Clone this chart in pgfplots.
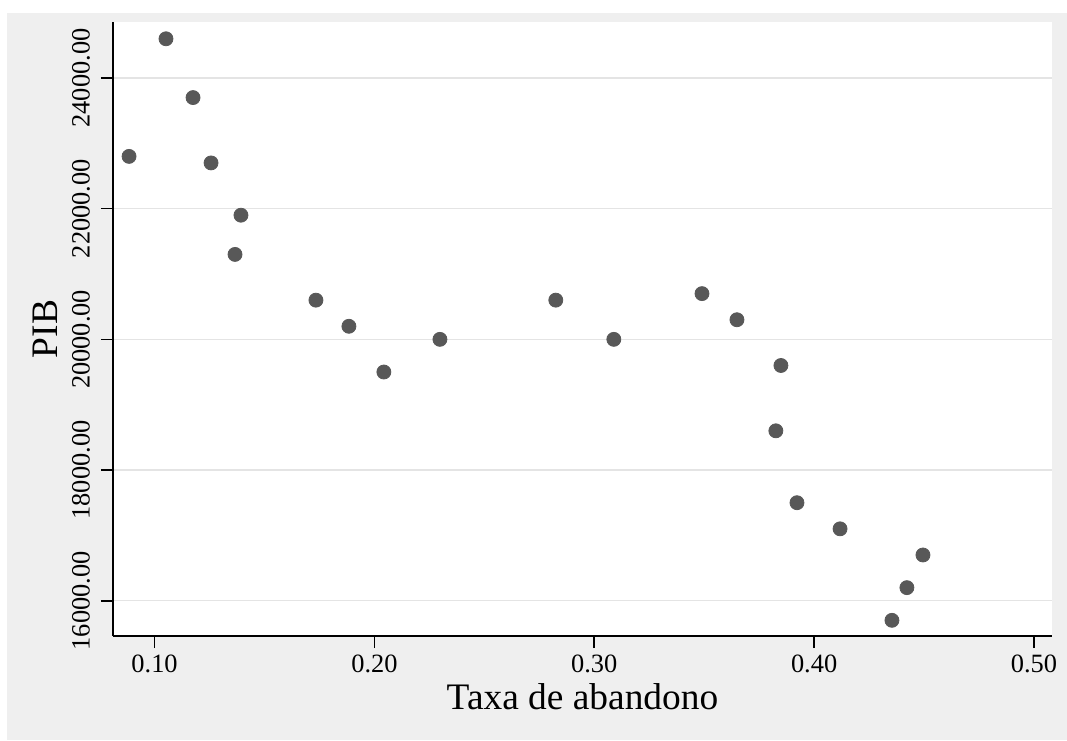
\documentclass[border=0pt]{standalone}
\usepackage{fontspec}
\setmainfont{Liberation Serif}
\usepackage{pgfplots}
\pgfplotsset{compat=1.18}
\definecolor{bggray}{RGB}{239,239,239}
\definecolor{ptgray}{RGB}{88,88,88}
\definecolor{gridgray}{RGB}{228,228,228}
\begin{document}
\begin{tikzpicture}
\path[use as bounding box] (0,0) rectangle (533.5pt,370pt);
\fill[bggray] (3.5pt,0pt) rectangle (533.5pt,363.5pt);
\begin{axis}[
  at={(56.5pt,52pt)}, anchor=south west,
  width=469.5pt, height=307pt, scale only axis,
  xmin=0.0811, xmax=0.5082, ymin=15460, ymax=24857,
  axis x line*=bottom, axis y line*=left,
  axis line style={black, line width=0.8pt, -},
  tick style={black, line width=0.8pt},
  tick align=outside, major tick length=6pt,
  xtick={0.1,0.2,0.3,0.4,0.5},
  ytick={16000,18000,20000,22000,24000},
  ymajorgrids, grid style={gridgray, line width=0.7pt},
  axis background/.style={fill=white},
  scaled ticks=false,
  yticklabel shift=2pt,
  /pgf/number format/assume math mode=true,
  x tick label style={/pgf/number format/.cd, fixed, fixed zerofill, precision=2, /tikz/.cd},
  y tick label style={rotate=90, anchor=south, /pgf/number format/.cd, fixed, fixed zerofill, precision=2, 1000 sep={}, /tikz/.cd},
  tick label style={font=\fontsize{13.2}{15.5}\selectfont},
  xlabel={Taxa de abandono}, ylabel={PIB},
  label style={font=\fontsize{18.7}{22.5}\selectfont},
  xlabel style={at={(axis description cs:0.5,-0.1205)}, anchor=base},
  ylabel style={at={(axis description cs:-0.0586,0.5)}, anchor=base},
]
\addplot[only marks, mark=*, mark size=3.5pt, mark options={fill=ptgray, draw=ptgray}] coordinates {
(0.0884,22800) (0.1052,24600) (0.1175,23700) (0.1257,22700) (0.1393,21900)
(0.1366,21300) (0.1734,20600) (0.1884,20200) (0.2043,19500) (0.2298,20000)
(0.2825,20600) (0.3089,20000) (0.3490,20700) (0.3649,20300) (0.3849,19600)
(0.3826,18600) (0.3922,17500) (0.4118,17100) (0.4495,16700) (0.4422,16200)
(0.4354,15700)
};
\end{axis}
\end{tikzpicture}
\end{document}
